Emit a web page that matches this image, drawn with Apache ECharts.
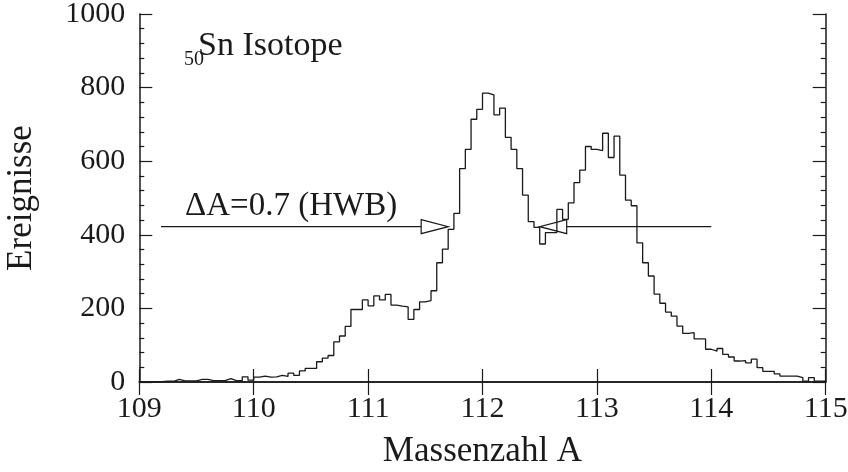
<!DOCTYPE html>
<html><head><meta charset="utf-8">
<script src="https://cdn.jsdelivr.net/npm/echarts@6/dist/echarts.min.js"></script>
<style>html,body{margin:0;padding:0;background:#fff}#c{width:848px;height:472px}</style>
</head><body><div id="c"></div>
<script>
// ---- data ----
const binStart = 109.0;
const binWidth = 0.05;
const counts = [
  0,0,1,1,2,2,7,3,3,3,
  7,7,4,4,4,9,4,4,14,5,
  13,16,13,14,18,15,24,18,30,37,
  37,55,65,72,109,125,151,197,197,223,
  207,234,223,238,209,206,204,170,197,218,
  221,248,324,361,415,458,580,632,714,741,
  785,780,726,744,665,632,580,508,436,420,
  375,406,406,469,442,487,542,576,640,632,
  629,676,610,668,562,494,479,378,324,288,
  239,214,190,179,152,132,134,117,117,89,
  84,91,75,68,57,58,52,62,39,29,
  29,22,16,16,16,12,2,12,2,2
];
const xMin = 109, xMax = 115, xStep = 1;
const yMin = 0, yMax = 1000, yStep = 200;
// arrows: [from, tip, level]
const arrows = [
  [109.19, 111.70, 422],
  [114.00, 112.50, 422]
];
const xTitle = 'Massenzahl A';
const yTitle = 'Ereignisse';
const fwhmText = 'ΔA=0.7 (HWB)';
const isoSub = '50';
const isoText = 'Sn Isotope';

// ---- build ----
const histData = counts.map((v, i) => [binStart + i * binWidth, v]);
histData.push([binStart + counts.length * binWidth, counts[counts.length - 1]]);

const FONT = 'Liberation Serif';
const INK = '#1a1a1a';
const plain = v => String(v);

const chart = echarts.init(document.getElementById('c'), null, {renderer: 'canvas'});
const axisCommon = {
  axisLine: {show: true, lineStyle: {color: INK, width: 1.5}},
  splitLine: {show: false}
};
chart.setOption({
  animation: false,
  backgroundColor: '#fff',
  grid: {left: 139.3, right: 22.3, top: 14, bottom: 90, containLabel: false, outerBoundsMode: 'none'},
  xAxis: [
    Object.assign({
      type: 'value', min: xMin, max: xMax, interval: xStep, position: 'bottom',
      axisTick: {show: true, inside: true, length: 13, lineStyle: {color: INK, width: 1.2}},
      axisLabel: {fontFamily: FONT, fontSize: 30, color: INK, margin: 12, formatter: plain},
      name: xTitle, nameLocation: 'middle', nameGap: 52,
      nameTextStyle: {fontFamily: FONT, fontSize: 35, color: INK}
    }, axisCommon),
    Object.assign({
      type: 'value', min: xMin, max: xMax, interval: xStep, position: 'top',
      axisTick: {show: true, inside: true, length: 13, lineStyle: {color: INK, width: 1.2}},
      axisLabel: {show: false}
    }, axisCommon)
  ],
  yAxis: [
    Object.assign({
      type: 'value', min: yMin, max: yMax, interval: yStep, position: 'left',
      axisTick: {show: true, inside: true, length: 13, lineStyle: {color: INK, width: 1.2}},
      minorTick: {show: true, splitNumber: 5, length: 5, lineStyle: {color: INK, width: 1.2}},
      axisLabel: {fontFamily: FONT, fontSize: 30, color: INK, margin: 14, formatter: plain},
      name: yTitle, nameLocation: 'middle', nameGap: 100, nameRotate: 90,
      nameTextStyle: {fontFamily: FONT, fontSize: 35, color: INK}
    }, axisCommon),
    Object.assign({
      type: 'value', min: yMin, max: yMax, interval: yStep, position: 'right',
      axisTick: {show: true, inside: true, length: 13, lineStyle: {color: INK, width: 1.2}},
      minorTick: {show: true, splitNumber: 5, length: 5, lineStyle: {color: INK, width: 1.2}},
      axisLabel: {show: false}
    }, axisCommon)
  ],
  graphic: [
    {type: 'text', left: 184, top: 50, style: {text: isoSub, font: '20px "' + FONT + '"', fill: INK}},
    {type: 'text', left: 198, top: 29, style: {text: isoText, font: '34px "' + FONT + '"', fill: INK}},
    {type: 'text', left: 185, top: 190, style: {text: fwhmText, font: '33px "' + FONT + '"', fill: INK}}
  ],
  series: [
    {
      type: 'line', step: 'end', data: histData, showSymbol: false, symbol: 'none',
      lineStyle: {color: INK, width: 1.3}, silent: true, clip: false
    },
    {
      type: 'custom', data: arrows, silent: true,
      renderItem: function (params, api) {
        const p0 = api.coord([api.value(0), api.value(2)]);
        const pt = api.coord([api.value(1), api.value(2)]);
        const dir = pt[0] > p0[0] ? 1 : -1;
        const headLen = 27, headHalf = 7;
        const bx = pt[0] - dir * headLen;
        const y = pt[1];
        return {
          type: 'group',
          children: [
            {type: 'line', shape: {x1: p0[0], y1: y, x2: bx, y2: y},
             style: {stroke: INK, lineWidth: 1.2}},
            {type: 'polygon', shape: {points: [[bx, y - headHalf], [pt[0], y], [bx, y + headHalf]]},
             style: {fill: 'none', stroke: INK, lineWidth: 1.2}}
          ]
        };
      }
    }
  ]
});
</script>
</body></html>
